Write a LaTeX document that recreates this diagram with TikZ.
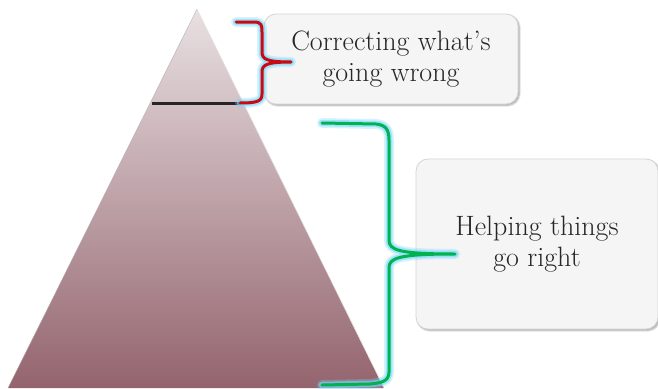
\documentclass[tikz,border=0pt]{standalone}
\usetikzlibrary{shadows.blur}
\definecolor{boxfill}{RGB}{245,245,245}
\definecolor{boxline}{RGB}{212,212,212}
\definecolor{tritop}{RGB}{232,224,226}
\definecolor{trimid}{RGB}{196,170,178}
\definecolor{tribot}{RGB}{148,100,110}
\definecolor{bred}{RGB}{200,10,20}
\definecolor{bgreen}{RGB}{0,178,80}
\definecolor{glow}{RGB}{120,215,250}
\begin{document}
\begin{tikzpicture}[x=1pt,y=-1pt,
  textbox/.style={draw=boxline, line width=0.8pt, fill=boxfill, rounded corners=12pt,
    blur shadow={shadow xshift=1.5pt, shadow yshift=-1.5pt, shadow blur steps=6, shadow opacity=35},
    align=center, font=\fontsize{28}{31}\selectfont, text=black!85},
  glowwide/.style={draw=glow, line width=10pt, opacity=0.3, line cap=round, line join=round},
  glownarrow/.style={draw=glow, line width=6.5pt, opacity=0.6, line cap=round, line join=round},
  brace/.style={line width=3pt, line cap=round, line join=round}]
\useasboundingbox (0,0) rectangle (658,388);
% triangle
\shade[top color=tritop, middle color=trimid, bottom color=tribot] (197,9) -- (384,388) -- (8,388) -- cycle;
\draw[white!80!gray, line width=0.6pt] (197,9) -- (384,388);
\draw[gray!60, line width=0.4pt] (197,9) -- (8,388);
% black line
\draw[black!85, line width=2.4pt] (152,103.5) -- (240,103.5);
% boxes
\node[textbox, minimum width=254pt, minimum height=90pt] (b1) at (391,59) {Correcting what's\\going wrong};
\node[textbox, minimum width=242pt, minimum height=170pt] (b2) at (537,244) {Helping things\\go right};
% red brace
\coordinate (r1) at (236,22);
\coordinate (r2) at (240,103);
\coordinate (rt) at (291,62);
\foreach \st/\col in {glowwide/glow, glownarrow/glow, brace/bred}{
\draw[\st, draw=\col] (r1) -- (254,22) .. controls (262,22) and (262,26) .. (262,32)
  -- (262,52) .. controls (262,59) and (266,62) .. (rt)
  (rt) .. controls (266,62) and (262,65) .. (262,72)
  -- (262,94) .. controls (262,101) and (258,103) .. (r2);
}
% green brace
\coordinate (g1) at (322,123);
\coordinate (g2) at (322,385);
\coordinate (gt) at (455,254);
\foreach \st/\col in {glowwide/glow, glownarrow/glow, brace/bgreen}{
\draw[\st, draw=\col] (g1) -- (376,124) .. controls (386,125) and (389,130) .. (389,140)
  -- (389,240) .. controls (389,250) and (398,254) .. (gt)
  (gt) .. controls (398,254) and (389,258) .. (389,268)
  -- (389,372) .. controls (389,382) and (380,383) .. (370,384) -- (g2);
}
\end{tikzpicture}
\end{document}
